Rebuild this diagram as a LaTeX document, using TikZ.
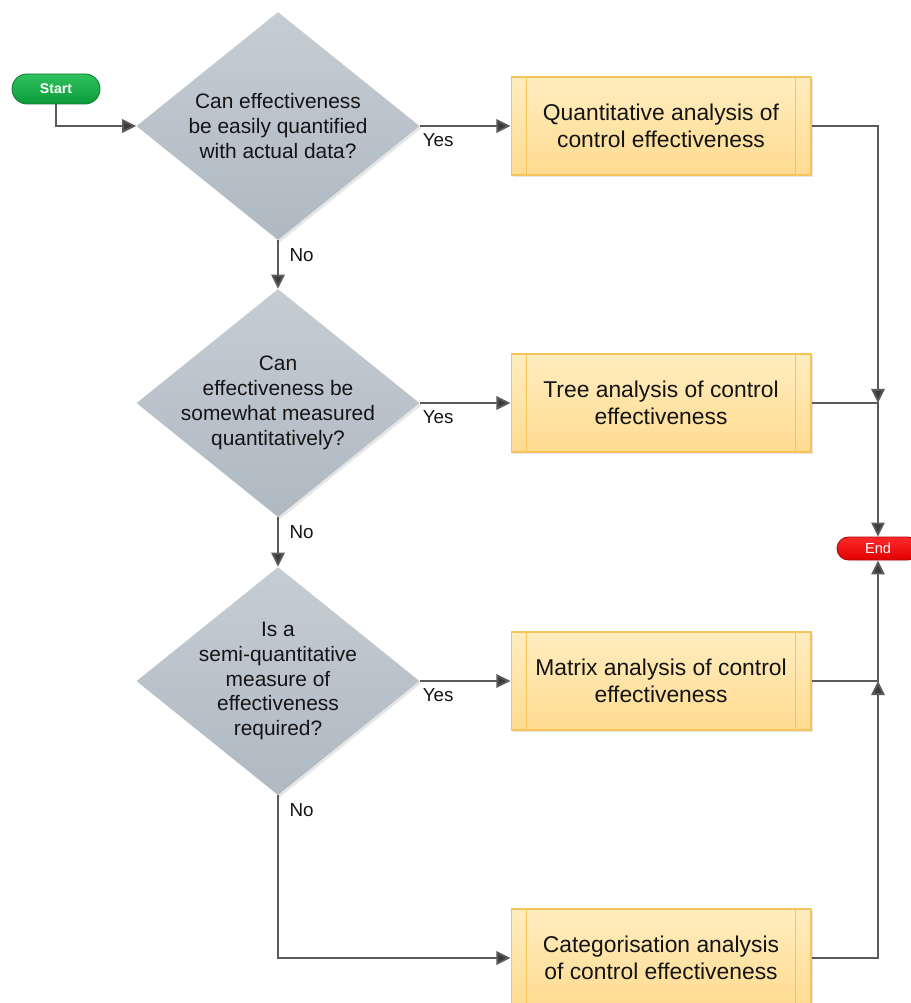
\documentclass[tikz,border=0pt]{standalone}
\usepackage{fontspec}
\setmainfont{Liberation Sans}
\usetikzlibrary{shapes.geometric,shapes.misc,arrows.meta,shadows}
\definecolor{dtop}{HTML}{C5CDD4}
\definecolor{dbot}{HTML}{AFB9C2}
\definecolor{ptop}{HTML}{FFEDBF}
\definecolor{pbot}{HTML}{FFDB90}
\definecolor{pborder}{HTML}{F5C55C}
\definecolor{gtop}{HTML}{2FC25E}
\definecolor{gbot}{HTML}{0C9A3A}
\definecolor{gborder}{HTML}{137A33}
\definecolor{rtop}{HTML}{FF2A2A}
\definecolor{rbot}{HTML}{E00000}
\definecolor{rborder}{HTML}{B00000}
\definecolor{linec}{HTML}{5A5A5A}
\definecolor{tipc}{HTML}{3A3A3A}
\begin{document}
\begin{tikzpicture}[x=0.02cm,y=-0.02cm,
  decision/.style={diamond, draw=none, top color=dtop, bottom color=dbot,
    minimum width=5.66cm, minimum height=4.56cm, inner sep=0pt,
    drop shadow={shadow xshift=1.2pt, shadow yshift=-1.2pt, opacity=0.2, fill=gray}},
  dtext/.style={font=\fontsize{11.9}{14.2}\selectfont, align=center, text=black!92, inner sep=0pt},
  proc/.style={rectangle, draw=pborder, line width=0.6pt, top color=ptop, bottom color=pbot,
    minimum width=6cm, minimum height=1.96cm, inner sep=0pt,
    font=\fontsize{13}{15.3}\selectfont, align=center, text=black!92,
    drop shadow={shadow xshift=1.2pt, shadow yshift=-1.2pt, opacity=0.2, fill=gray}},
  terminal/.style={rounded rectangle, line width=0.5pt, inner sep=0pt, text=white},
  conn/.style={draw=linec, line width=1.1pt},
  arr/.style={conn, -{Triangle[length=8pt, width=7.6pt, fill=tipc]}},
  yeslab/.style={font=\fontsize{10.7}{12}\selectfont, text=black!92, inner sep=0pt, anchor=north west, xshift=1.2pt, yshift=-4pt},
  nolab/.style={font=\fontsize{10.7}{12}\selectfont, text=black!92, inner sep=0pt, anchor=north west, xshift=6pt, yshift=-4pt}
]
\useasboundingbox (0,0) rectangle (911,1003);

% terminals
\node[terminal, draw=gborder, top color=gtop, bottom color=gbot,
  minimum width=1.76cm, minimum height=0.6cm,
  font=\fontsize{8}{9}\selectfont\bfseries] (start) at (56,89) {Start};
\node[terminal, draw=rborder, top color=rtop, bottom color=rbot,
  minimum width=1.64cm, minimum height=0.46cm,
  font=\fontsize{8.3}{9}\selectfont] (end) at (878,548.5) {End};

% decisions
\node[decision] (d1) at (278,126) {};
\node[dtext] (d1t) at (d1.center) {Can effectiveness\\be easily quantified\\with actual data?};
\node[decision] (d2) at (278,403) {};
\node[dtext] (d2t) at (d2.center) {Can\\effectiveness be\\somewhat measured\\quantitatively?};
\node[decision] (d3) at (278,681) {};
\node[dtext] (d3t) at (d3.center) {Is a\\semi-quantitative\\measure of\\effectiveness\\required?};

% processes
\node[proc] (b1) at (661,126) {Quantitative analysis of\\control effectiveness};
\node[proc] (b2) at (661,403) {Tree analysis of control\\effectiveness};
\node[proc] (b3) at (661,681) {Matrix analysis of control\\effectiveness};
\node[proc] (b4) at (661,958) {Categorisation analysis\\of control effectiveness};
\foreach \b in {b1,b2,b3,b4}{
  \draw[pborder, line width=0.6pt] ([xshift=0.32cm]\b.north west) -- ([xshift=0.32cm]\b.south west);
  \draw[pborder, line width=0.6pt] ([xshift=-0.32cm]\b.north east) -- ([xshift=-0.32cm]\b.south east);
}

% junctions
\coordinate (j1) at (end.north |- b2.east);
\coordinate (j2) at (end.south |- b3.east);

% connectors
\draw[arr] (start.south) |- (d1.west);
\draw[arr] (d1.east) -- node[yeslab, pos=0] {Yes} (b1.west);
\draw[arr] (d2.east) -- node[yeslab, pos=0] {Yes} (b2.west);
\draw[arr] (d3.east) -- node[yeslab, pos=0] {Yes} (b3.west);
\draw[arr] (d1.south) -- node[nolab, pos=0] {No} (d2.north);
\draw[arr] (d2.south) -- node[nolab, pos=0] {No} (d3.north);
\draw[arr] (d3.south) -- node[nolab, pos=0] {No} (d3.south |- b4.west) -- (b4.west);
\draw[arr] (b1.east) -| (j1);
\draw[arr] (b2.east) -- (j1) -- (end.north);
\draw[arr] (b4.east) -| (j2);
\draw[arr] (b3.east) -- (j2) -- (end.south);
\end{tikzpicture}
\end{document}
